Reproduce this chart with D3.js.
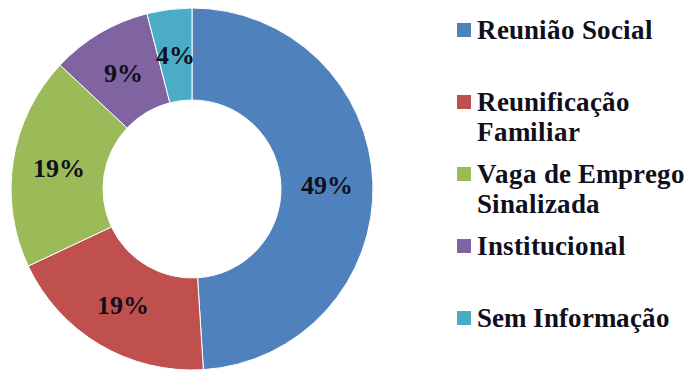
<!DOCTYPE html>
<html>
<head>
<meta charset="utf-8">
<script src="https://cdn.jsdelivr.net/npm/d3@7"></script>
<style>
  @font-face {
    font-family: "SerifGrafico";
    src: local("Liberation Serif Bold"), local("LiberationSerif-Bold"), local("Times New Roman Bold"), local("Tinos Bold");
    font-weight: bold;
  }
  body { margin: 0; background: #fff; }
  svg { display: block; }
</style>
</head>
<body>
<svg id="grafico" width="685" height="371"></svg>
<script>
// --- Dados ---
const categorias = ["Reunião Social", "Reunificação Familiar", "Vaga de Emprego Sinalizada", "Institucional", "Sem Informação"];
const legendaLinhas = [["Reunião Social"], ["Reunificação", "Familiar"], ["Vaga de Emprego", "Sinalizada"], ["Institucional"], ["Sem Informação"]];
const percentuais = [49, 19, 19, 9, 4];
const cores = ["#4f81bd", "#c0504d", "#9bbb59", "#8064a2", "#4bacc6"];

const dados = categorias.map((c, i) => ({ categoria: c, valor: percentuais[i], linhas: legendaLinhas[i] }));

const fonte = '"SerifGrafico", "Liberation Serif", "Times New Roman", serif';

const svg = d3.select("#grafico"),
    cx = 192,
    cy = 189,
    outerR = 181,
    innerR = 89;

const color = d3.scaleOrdinal()
    .domain(categorias)
    .range(cores);

const pie = d3.pie()
    .sort(null)
    .value(d => d.valor);

const arc = d3.arc()
    .innerRadius(innerR)
    .outerRadius(outerR);

const g = svg.append("g")
    .attr("transform", `translate(${cx},${cy})`);

const arcs = pie(dados);

g.selectAll("path")
    .data(arcs)
    .enter()
    .append("path")
    .attr("d", arc)
    .attr("fill", d => color(d.data.categoria))
    .attr("stroke", "#fff")
    .attr("stroke-width", 1);

g.selectAll("text")
    .data(arcs)
    .enter()
    .append("text")
    .attr("x", d => arc.centroid(d)[0])
    .attr("y", d => arc.centroid(d)[1] + 9)
    .attr("text-anchor", "middle")
    .style("font-family", fonte)
    .style("font-weight", "bold")
    .style("font-size", "26px")
    .style("fill", "#10101c")
    .text(d => d.data.valor + "%");

// --- Legenda ---
const legend = svg.append("g")
    .attr("transform", "translate(457,39)");

const item = legend.selectAll("g")
    .data(dados)
    .enter()
    .append("g")
    .attr("transform", (d, i) => `translate(0,${i * 72})`);

item.append("rect")
    .attr("x", 0)
    .attr("y", -16)
    .attr("width", 14)
    .attr("height", 14)
    .attr("fill", d => color(d.categoria));

item.each(function (d) {
    const grupo = d3.select(this);
    d.linhas.forEach((linha, i) => {
        grupo.append("text")
            .attr("x", 20)
            .attr("y", i * 30)
            .style("font-family", fonte)
            .style("font-weight", "bold")
            .style("font-size", "27px")
            .style("fill", "#10101c")
            .text(linha);
    });
});
</script>
</body>
</html>
